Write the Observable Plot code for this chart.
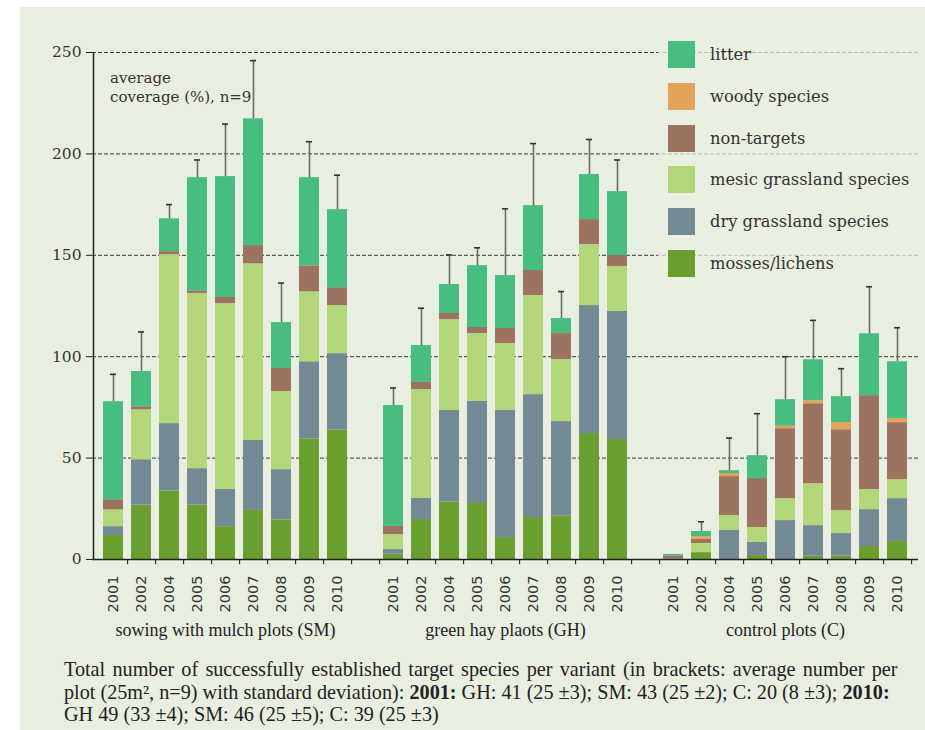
<!DOCTYPE html>
<html>
<head>
<meta charset="utf-8">
<script src="https://cdn.jsdelivr.net/npm/d3@7"></script>
<script src="https://cdn.jsdelivr.net/npm/@observablehq/plot@0.6"></script>
<style>
  html, body { margin: 0; padding: 0; background: #ffffff; }
  #panel { position: absolute; left: 20px; top: 7px; width: 905px; height: 723px; background: #e9efe0; overflow: hidden; }
  #chart { position: absolute; left: 0; top: 0; }
  #note { position: absolute; left: 90px; top: 62px; font-family: "DejaVu Serif"; font-size: 15px; line-height: 19px; color: #333; }
  #legend { position: absolute; left: 638px; top: 26px; width: 267px; height: 250px; background: rgba(233,239,224,0.72); }
  .item { position: absolute; left: 10px; height: 27px; display: flex; align-items: center; font-family: "DejaVu Serif"; font-size: 16.3px; color: #333; }
  .sw { width: 27px; height: 27px; margin-right: 15px; }
  #caption { position: absolute; left: 44px; top: 651px; font-family: "Liberation Serif"; font-size: 20.2px; line-height: 22.5px; color: #222; white-space: nowrap; }
  #caption .l1 { word-spacing: 2.2px; }
</style>
</head>
<body>
<div id="panel">
  <div id="chart"></div>
  <div id="note">average<br>coverage (%), n=9</div>
  <div id="legend"></div>
  <div id="caption"></div>
</div>
<script>
// ---- data ----
const groups = ["SM", "GH", "C"];
const groupLabels = ["sowing with mulch plots (SM)", "green hay plaots (GH)", "control plots (C)"];
const years = ["2001", "2002", "2004", "2005", "2006", "2007", "2008", "2009", "2010"];
const categories = ["mosses/lichens", "dry grassland species", "mesic grassland species", "non-targets", "woody species", "litter"];
const colors = ["#6a9e2f", "#738a94", "#b3d67a", "#9c7360", "#e4a35b", "#47bd80"];
const legendOrder = ["litter", "woody species", "non-targets", "mesic grassland species", "dry grassland species", "mosses/lichens"];

// values in order: SM (9 years), GH (9 years), C (9 years)
const mosses = [11.8, 26.8, 33.8, 26.8, 16.2, 24.2, 19.5, 59.5, 63.8,
                2.6, 19.7, 28.3, 27.6, 10.8, 20.7, 21.5, 62.1, 59.2,
                0, 3.4, 0, 2, 0, 1.6, 1.6, 6.4, 8.9];
const dry = [4.4, 22.4, 33.2, 18, 18.3, 34.5, 24.8, 38, 37.7,
             2.3, 10.4, 45.2, 50.3, 62.7, 60.6, 46.5, 63.1, 63.1,
             0.3, 0, 14.3, 6.4, 19.2, 15.1, 11.2, 18.2, 21.1];
const mesic = [8.3, 24.6, 83.3, 86.4, 91.7, 87.1, 38.5, 34.5, 23.7,
               7.4, 53.7, 44.8, 33.5, 33, 48.9, 30.6, 30.1, 22.2,
               0, 4.5, 7.4, 7.4, 10.8, 20.7, 11.3, 9.9, 9.4];
const nonTargets = [5, 1.5, 1.5, 1.3, 3, 9, 11.4, 12.8, 8.8,
                    4, 3.5, 3, 3, 7.4, 12.3, 12.8, 12.3, 5.4,
                    1.5, 2, 19.2, 24.1, 34.5, 39.4, 39.9, 46.3, 28.1];
const woody = [0, 0, 0, 0, 0, 0, 0, 0, 0,
               0, 0, 0, 0, 0, 0, 0, 0, 0,
               0, 1.4, 1.5, 0, 1.2, 1.5, 3.5, 0, 2];
const litter = [48.3, 17.4, 16.2, 55.8, 59.6, 62.5, 22.6, 43.5, 38.5,
                59.6, 18.2, 14.3, 30.5, 26.1, 32, 7.4, 22.2, 31.5,
                0.7, 2.5, 1.4, 11.3, 13.1, 20.2, 12.8, 30.5, 28];
const stdDev = [13.5, 19.5, 7, 8.7, 25.9, 28.7, 19.5, 17.7, 17,
                8.7, 18.4, 14.6, 8.8, 32.9, 30.6, 13.3, 17.3, 15.6,
                0, 4.8, 16.1, 20.7, 21.2, 19.4, 13.8, 23.2, 16.8];
const yTicks = [0, 50, 100, 150, 200, 250];

// ---- build tables ----
const series = [mosses, dry, mesic, nonTargets, woody, litter];
const slots = [];
groups.forEach((g, gi) => {
  years.forEach(y => slots.push(g + "-" + y));
  if (gi < groups.length - 1) slots.push("gap" + gi);
});
const barSlots = [];
groups.forEach(g => years.forEach(y => barSlots.push({slot: g + "-" + y, year: y, group: g})));

const long = [];
barSlots.forEach((b, i) => {
  categories.forEach((c, ci) => long.push({slot: b.slot, cat: c, value: series[ci][i]}));
});
const errData = barSlots.map((b, i) => {
  const top = series.reduce((s, arr) => s + arr[i], 0);
  return {slot: b.slot, top, errTop: top + stdDev[i], sd: stdDev[i]};
}).filter(d => d.sd > 0);
const groupLabelData = groups.map((g, i) => ({slot: g + "-" + years[4], label: groupLabels[i]}));

const chart = Plot.plot({
  width: 905,
  height: 645,
  marginLeft: 72,
  marginRight: 7,
  marginTop: 45,
  marginBottom: 93,
  style: {background: "transparent", fontFamily: "DejaVu Serif", color: "#333", overflow: "visible"},
  x: {domain: slots, range: [78, 892], paddingInner: 0.29, paddingOuter: 0.145, axis: null},
  y: {domain: [0, 250], axis: null},
  color: {domain: categories, range: colors},
  marks: [
    Plot.ruleY(yTicks.filter(t => t > 0), {stroke: "#3a3a3a", strokeWidth: 1, strokeDasharray: "4,2"}),
    Plot.barY(long, {x: "slot", y: "value", fill: "cat", order: categories}),
    Plot.ruleX(errData, {x: "slot", y1: "top", y2: "errTop", stroke: "#6b6b63", strokeWidth: 1.6}),
    Plot.tickY(errData, {x: "slot", y: "errTop", stroke: "#333", strokeWidth: 1.6, insetLeft: 7, insetRight: 7}),
    // x-axis ticks at slot boundaries
    Plot.ruleX(slots, {x: d => d, y1: 0, y2: -2.6, dx: 14.035, stroke: "#333", strokeWidth: 1.2}),
    Plot.ruleY([0], {stroke: "#222", strokeWidth: 1.5}),
    Plot.ruleX([slots[0]], {x: d => d, y1: 0, y2: 250, dx: -20, stroke: "#222", strokeWidth: 1.5}),
    Plot.axisY({ticks: yTicks, tickSize: 6, tickPadding: 5, fontSize: 15.5, fontFamily: "DejaVu Serif", fill: "#333", stroke: "#222", label: null}),
    Plot.text(barSlots, {x: "slot", frameAnchor: "bottom", text: "year", rotate: -90, textAnchor: "end", lineAnchor: "middle", dy: 16, fontFamily: "DejaVu Sans", fontSize: 14.5, fill: "#333"}),
    Plot.text(groupLabelData, {x: "slot", frameAnchor: "bottom", text: "label", dy: 76, fontFamily: "Liberation Serif", fontSize: 18, fill: "#222"})
  ]
});
document.getElementById("chart").appendChild(chart);

// legend
const legend = document.getElementById("legend");
legendOrder.forEach((c, i) => {
  const it = document.createElement("div");
  it.className = "item";
  it.style.top = (8 + i * 41.8) + "px";
  const sw = document.createElement("div");
  sw.className = "sw";
  sw.style.background = colors[categories.indexOf(c)];
  const tx = document.createElement("span");
  tx.textContent = c;
  it.appendChild(sw);
  it.appendChild(tx);
  legend.appendChild(it);
});

document.getElementById("caption").innerHTML =
  "<div class='l1'>Total number of successfully established target species per variant (in brackets: average number per</div>" +
  "<div>plot (25m², n=9) with standard deviation): <b>2001:</b> GH: 41 (25 ±3); SM: 43 (25 ±2); C: 20 (8 ±3); <b>2010:</b></div>" +
  "<div>GH 49 (33 ±4); SM: 46 (25 ±5); C: 39 (25 ±3)</div>";
</script>
</body>
</html>
